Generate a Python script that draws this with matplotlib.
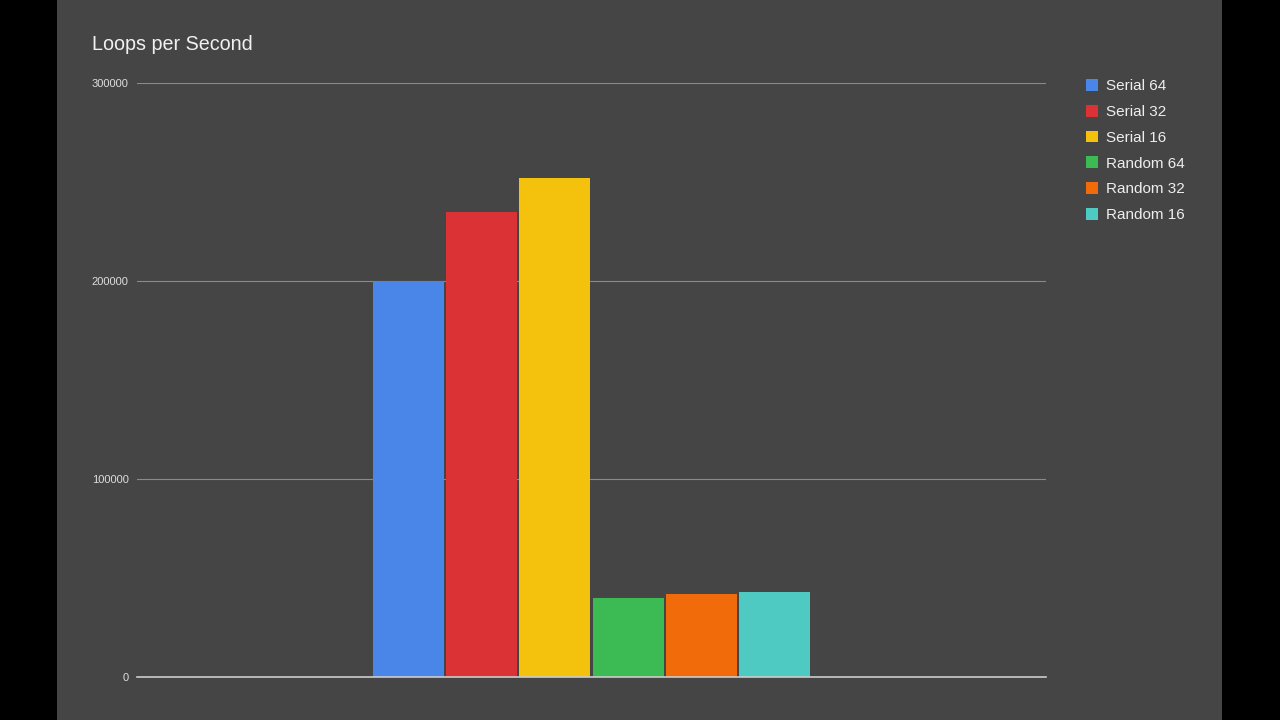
import numpy as np
import matplotlib.pyplot as plt
from matplotlib.patches import Rectangle

# data
series = ['Serial 64', 'Serial 32', 'Serial 16', 'Random 64', 'Random 32', 'Random 16']
values = [200000, 235000, 252000, 40000, 42000, 43000]
colors = ['#4a86e8', '#db3236', '#f4c20d', '#3cba54', '#f26b0a', '#4ecac2']
yticks = [0, 100000, 200000, 300000]

bg = '#454545'
plt.rcParams['font.family'] = ['Liberation Sans', 'DejaVu Sans']

fig = plt.figure(figsize=(12.8, 7.2), dpi=100, facecolor='black')
# gray panel between the black side bars
fig.patches.append(Rectangle((57 / 1280, 0), (1222 - 57) / 1280, 1,
                             transform=fig.transFigure, facecolor=bg,
                             edgecolor='none', zorder=-5))

ax = fig.add_axes([137 / 1280, 43 / 720, (1046 - 137) / 1280, (677 - 83) / 720])
ax.set_facecolor(bg)

step = 0.0805
width = 0.078
n = len(series)
for i, (name, v, c) in enumerate(zip(series, values, colors)):
    x = (i - (n - 1) / 2) * step
    ax.bar(x, v, width=width, color=c, label=name, zorder=3)

ax.set_xlim(-0.5, 0.5)
ax.set_ylim(0, 300000)
ax.set_yticks(yticks)
ax.set_yticklabels([str(t) for t in yticks], fontsize=8, color='#dddddd')
ax.set_xticks([])
ax.tick_params(axis='y', length=0, pad=6)
ax.grid(axis='y', color='#8a8a8a', linewidth=0.8, zorder=1)
for s in ['top', 'right', 'left']:
    ax.spines[s].set_visible(False)
ax.spines['bottom'].set_color('#cccccc')
ax.spines['bottom'].set_linewidth(1.2)
ax.spines['bottom'].set_zorder(4)

fig.text(92 / 1280, 1 - 45 / 720, 'Loops per Second', fontsize=14.2,
         color='#f0f0f0', va='center', ha='left')

leg = ax.legend(loc='upper left', bbox_to_anchor=(1080 / 1280, 1 - 73 / 720),
                bbox_transform=fig.transFigure, frameon=False, fontsize=11,
                handlelength=0.8, handleheight=0.8, handletextpad=0.5,
                labelspacing=0.76, borderaxespad=0)
for t in leg.get_texts():
    t.set_color('#eeeeee')

fig.savefig('out.png', dpi=100, facecolor='black')
